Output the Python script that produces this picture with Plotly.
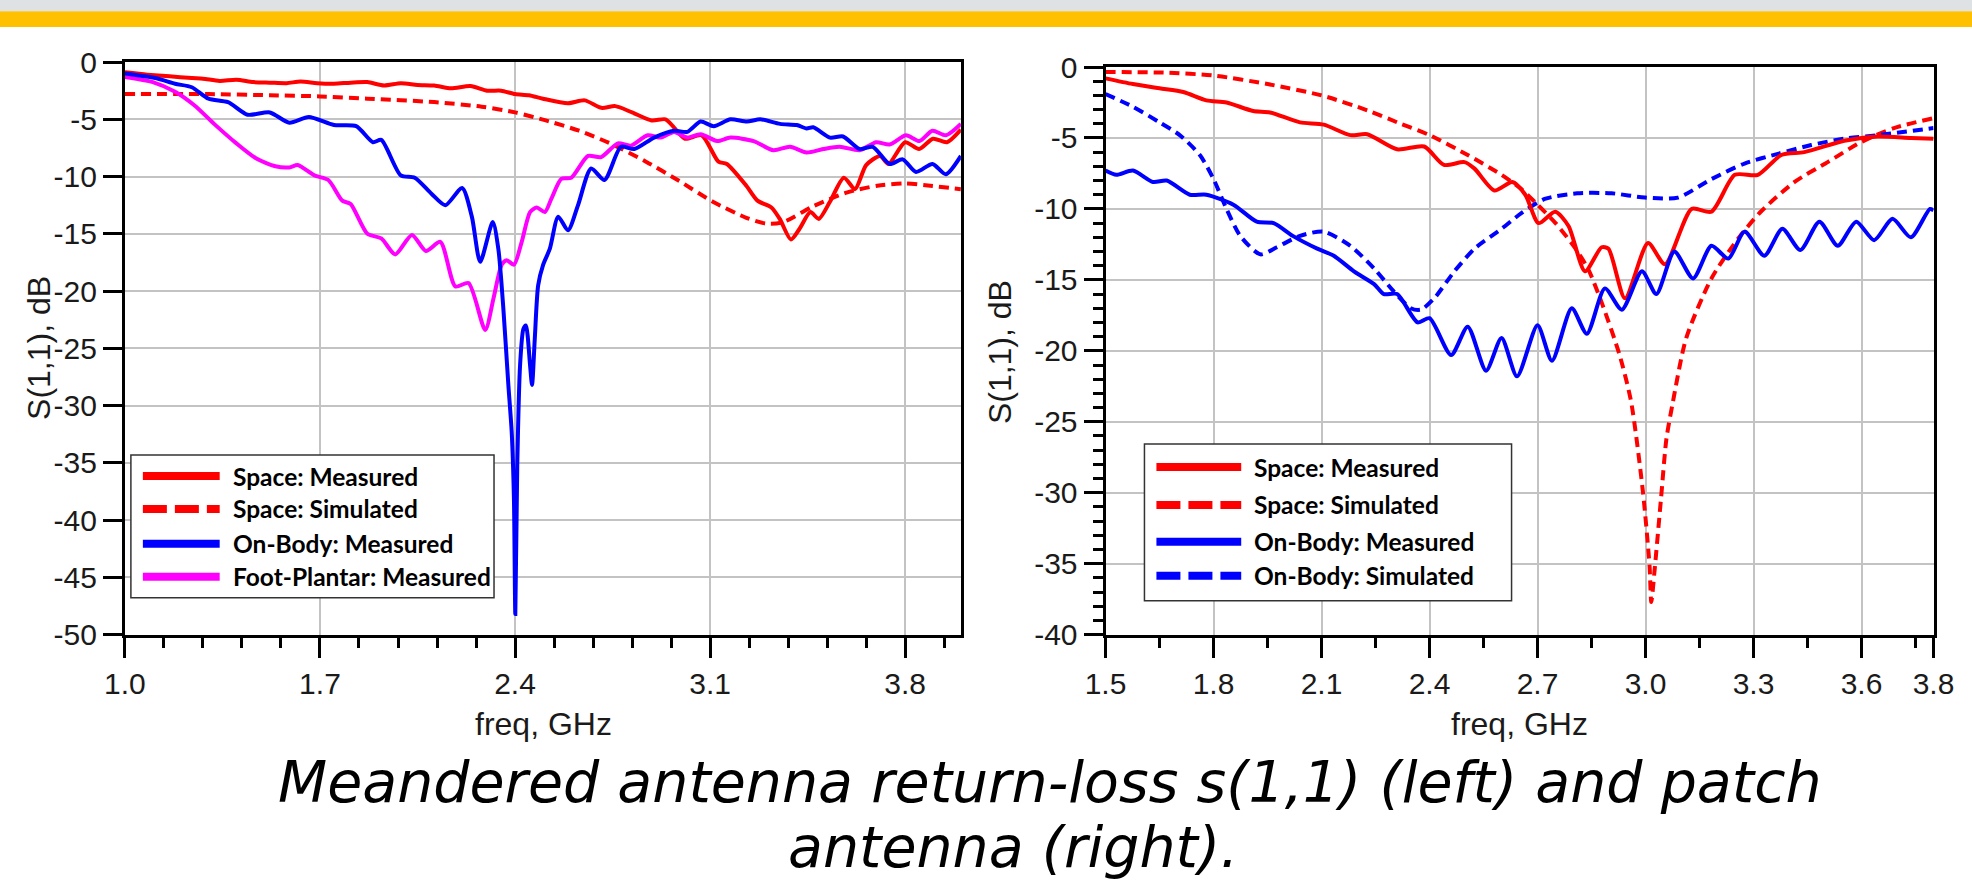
import plotly.graph_objects as go

# Page size; reference pixel -> page pixel mapping (the capture adds a white frame around the page)
W, H = 1972, 896
SX, OFF_X = 1.0193, 19.2
SY, OFF_Y = 928 / 896, 18.5

# ---------------- DATA: left chart (meandered antenna) ----------------
left_space_meas_f = [1.00, 1.08, 1.16, 1.24, 1.28, 1.34, 1.40, 1.46, 1.52, 1.58, 1.63, 1.69, 1.75, 1.81, 1.87, 1.93, 1.99, 2.05, 2.11, 2.17, 2.24, 2.30,
                     2.35, 2.40, 2.45, 2.50, 2.59, 2.65, 2.71, 2.76, 2.82, 2.89, 2.94, 2.97, 3.01, 3.07, 3.13, 3.16, 3.23, 3.27, 3.32, 3.35,
                     3.39, 3.42, 3.46, 3.49, 3.53, 3.58, 3.62, 3.66, 3.71, 3.74, 3.80, 3.85, 3.90, 3.95, 4.00]
left_space_meas_db = [-0.9, -1.1, -1.25, -1.4, -1.45, -1.65, -1.55, -1.75, -1.8, -1.85, -1.7, -1.85, -1.9, -1.8, -1.75, -2.05, -1.85, -2.0, -2.05, -2.3, -2.1, -2.5,
                      -2.5, -2.8, -2.9, -3.2, -3.6, -3.35, -4.0, -3.85, -4.4, -5.1, -5.0, -5.7, -6.7, -6.4, -8.7, -8.9, -10.8, -12.1, -12.7, -13.7,
                      -15.5, -14.6, -13.1, -13.7, -12.2, -10.1, -11.1, -9.0, -8.2, -8.9, -7.0, -7.6, -6.7, -7.0, -5.9]

left_space_sim_f = [1.00, 1.30, 1.52, 1.70, 1.87, 2.11, 2.28, 2.40, 2.51, 2.63, 2.75, 2.87, 2.99, 3.11, 3.23, 3.30, 3.36, 3.47, 3.59, 3.70, 3.80, 3.89, 4.00]
left_space_sim_db = [-2.8, -2.8, -2.9, -3.0, -3.2, -3.5, -3.9, -4.4, -5.1, -6.0, -7.2, -8.7, -10.4, -12.2, -13.6, -14.1, -14.0, -12.6, -11.4, -10.8, -10.6, -10.8, -11.1]

left_body_meas_f = [1.00, 1.11, 1.18, 1.24, 1.30, 1.37, 1.44, 1.52, 1.59, 1.66, 1.75, 1.83, 1.89, 1.92, 1.99, 2.04, 2.10, 2.15, 2.21, 2.245,
                    2.275, 2.32, 2.34, 2.358, 2.376, 2.388, 2.396, 2.401, 2.408, 2.418, 2.430, 2.439, 2.454, 2.461, 2.471, 2.483, 2.501,
                    2.525, 2.555, 2.590, 2.626, 2.673, 2.721, 2.780, 2.828, 2.899, 2.971, 3.018, 3.066, 3.113, 3.173, 3.232, 3.280, 3.351,
                    3.411, 3.446, 3.470, 3.530, 3.577, 3.637, 3.684, 3.744, 3.791, 3.839, 3.898, 3.946, 4.00]
left_body_meas_db = [-1.0, -1.4, -1.9, -2.2, -3.2, -3.5, -4.6, -4.4, -5.3, -4.8, -5.5, -5.6, -7.0, -6.8, -9.9, -10.1, -11.5, -12.5, -11.0, -13.5,
                     -17.45, -13.97, -16.3, -21.5, -28.2, -32.3, -38.1, -48.2, -35.2, -26.5, -23.3, -23.0, -26.5, -28.2, -24.1, -19.5, -17.7,
                     -16.3, -13.5, -14.7, -12.5, -9.3, -10.3, -7.4, -7.6, -6.6, -6.0, -6.1, -5.2, -5.6, -5.0, -5.2, -5.0, -5.4,
                     -5.5, -5.8, -5.7, -6.6, -6.5, -7.6, -7.4, -8.9, -8.5, -9.6, -8.9, -9.8, -8.2]

left_foot_meas_f = [1.00, 1.10, 1.18, 1.25, 1.32, 1.40, 1.47, 1.54, 1.59, 1.62, 1.68, 1.73, 1.78, 1.81, 1.87, 1.92, 1.97, 2.03, 2.08, 2.132,
                    2.186, 2.233, 2.293, 2.323, 2.352, 2.370, 2.396, 2.424, 2.454, 2.478, 2.507, 2.531, 2.566, 2.602, 2.662, 2.709,
                    2.769, 2.816, 2.876, 2.923, 2.971, 3.018, 3.066, 3.125, 3.173, 3.256, 3.327, 3.387, 3.446, 3.506, 3.565, 3.637,
                    3.696, 3.744, 3.803, 3.851, 3.898, 3.946, 4.00]
left_foot_meas_db = [-1.3, -1.75, -2.6, -3.8, -5.4, -7.1, -8.4, -9.1, -9.2, -9.0, -9.9, -10.3, -12.1, -12.4, -15.0, -15.4, -16.8, -15.1, -16.5, -15.7,
                     -19.6, -19.3, -23.4, -20.6, -17.7, -17.3, -17.7, -15.7, -13.1, -12.7, -13.1, -11.9, -10.2, -10.1, -8.2, -8.3,
                     -7.1, -7.3, -6.4, -6.6, -6.1, -6.6, -6.3, -6.9, -6.6, -6.9, -7.7, -7.4, -7.9, -7.6, -7.4, -7.7,
                     -7.0, -7.2, -6.4, -6.9, -6.0, -6.4, -5.4]

# ---------------- DATA: right chart (patch antenna) ----------------
right_space_meas_f = [1.50, 1.576, 1.65, 1.716, 1.78, 1.836, 1.91, 1.957, 2.04, 2.106, 2.18, 2.227, 2.31, 2.385, 2.44, 2.497, 2.525, 2.58,
                      2.63, 2.666, 2.703, 2.749, 2.786, 2.832, 2.878, 2.897, 2.943, 3.007, 3.054, 3.128, 3.183, 3.248, 3.312, 3.377,
                      3.441, 3.552, 3.645, 3.737, 3.80]
right_space_meas_db = [-0.8, -1.2, -1.5, -1.76, -2.35, -2.5, -3.1, -3.2, -3.9, -4.06, -4.8, -4.74, -5.8, -5.6, -6.9, -6.7, -7.16, -8.7,
                       -8.1, -9.0, -11.0, -10.2, -11.2, -14.4, -12.7, -12.8, -16.3, -12.4, -13.9, -10.0, -10.2, -7.6, -7.6, -6.2,
                       -6.0, -5.2, -4.9, -5.0, -5.05]

right_space_sim_f = [1.50, 1.67, 1.80, 1.95, 2.10, 2.227, 2.32, 2.40, 2.506, 2.60, 2.655, 2.70, 2.75, 2.80, 2.84, 2.881, 2.928, 2.960,
                     2.993, 3.011, 3.016, 3.025, 3.043, 3.058, 3.076, 3.113, 3.183, 3.257, 3.32, 3.414, 3.506, 3.598, 3.69, 3.80]
right_space_sim_db = [-0.35, -0.4, -0.6, -1.2, -2.0, -3.05, -4.0, -4.8, -6.2, -7.6, -8.6, -9.7, -11.0, -12.6, -14.2, -16.8, -20.3, -23.6,
                      -30.0, -35.1, -37.7, -35.5, -30.4, -26.2, -23.6, -19.1, -14.9, -12.1, -10.2, -8.1, -6.7, -5.3, -4.3, -3.6]

right_body_meas_f = [1.50, 1.53, 1.576, 1.632, 1.67, 1.734, 1.78, 1.855, 1.92, 1.967, 2.02, 2.088, 2.134, 2.19, 2.246, 2.273, 2.31, 2.367,
                     2.40, 2.46, 2.506, 2.557, 2.60, 2.643, 2.70, 2.74, 2.795, 2.837, 2.887, 2.934, 2.99, 3.03, 3.08, 3.132, 3.183,
                     3.23, 3.275, 3.33, 3.38, 3.43, 3.483, 3.534, 3.585, 3.635, 3.686, 3.737, 3.79, 3.80]
right_body_meas_db = [-7.3, -7.6, -7.3, -8.1, -8.0, -9.0, -9.0, -9.7, -10.9, -11.0, -11.9, -12.8, -13.3, -14.4, -15.3, -16.0, -16.0, -18.0,
                      -17.7, -20.3, -18.3, -21.4, -19.1, -21.8, -18.2, -20.7, -17.0, -18.8, -15.6, -17.1, -14.4, -16.0, -13.0, -14.9, -12.6,
                      -13.5, -11.6, -13.3, -11.4, -12.9, -10.9, -12.6, -10.9, -12.2, -10.7, -12.0, -10.0, -10.1]

right_body_sim_f = [1.50, 1.576, 1.65, 1.706, 1.762, 1.80, 1.836, 1.874, 1.93, 1.976, 2.04, 2.106, 2.18, 2.246, 2.30, 2.348, 2.376, 2.413,
                    2.469, 2.525, 2.60, 2.655, 2.72, 2.81, 2.906, 2.998, 3.09, 3.183, 3.275, 3.37, 3.46, 3.552, 3.645, 3.80]
right_body_sim_db = [-1.9, -2.8, -3.9, -4.8, -6.2, -7.9, -10.0, -11.9, -13.2, -12.7, -11.9, -11.6, -12.6, -14.2, -15.8, -17.0, -17.1, -16.3,
                     -14.4, -12.8, -11.4, -10.3, -9.3, -8.9, -8.9, -9.2, -9.2, -7.9, -6.8, -6.1, -5.5, -5.05, -4.8, -4.3]

# ---------------- tick labels ----------------
left_x_ticks = [1.0, 1.7, 2.4, 3.1, 3.8]
left_x_labels = ["1.0", "1.7", "2.4", "3.1", "3.8"]
left_y_ticks = [0, -5, -10, -15, -20, -25, -30, -35, -40, -45, -50]
left_y_labels = ["0", "-5", "-10", "-15", "-20", "-25", "-30", "-35", "-40", "-45", "-50"]
right_x_ticks = [1.5, 1.8, 2.1, 2.4, 2.7, 3.0, 3.3, 3.6, 3.8]
right_x_labels = ["1.5", "1.8", "2.1", "2.4", "2.7", "3.0", "3.3", "3.6", "3.8"]
right_y_ticks = [0, -5, -10, -15, -20, -25, -30, -35, -40]
right_y_labels = ["0", "-5", "-10", "-15", "-20", "-25", "-30", "-35", "-40"]

left_legend = ["Space: Measured", "Space: Simulated", "On-Body: Measured", "Foot-Plantar: Measured"]
right_legend = ["Space: Measured", "Space: Simulated", "On-Body: Measured", "On-Body: Simulated"]
caption_1 = "Meandered antenna return-loss s(1,1) (left) and patch"
caption_2 = "antenna (right)."
x_title = "freq, GHz"
y_title = "S(1,1), dB"

RED, BLUE, MAG = "#ff0000", "#0000ff", "#ff00ff"


def fx(X):
    """reference x -> page x (px)"""
    return X * SX - OFF_X


def fy(Y):
    """reference y -> page y (px)"""
    return Y * SY - OFF_Y


def px(X):
    return fx(X) / W


def py(Y):
    return 1 - fy(Y) / H


def pyp(y_page):
    return 1 - y_page / H


fig = go.Figure()

LW = 4
DASH = "10px,6px"


def add(f, db, color, dash, xa, ya, name):
    fig.add_trace(go.Scatter(x=f, y=db, mode="lines", name=name, xaxis=xa, yaxis=ya,
                             line=dict(color=color, width=LW, dash=dash, shape="spline", smoothing=0.7),
                             showlegend=False, hoverinfo="x+y"))


add(left_space_sim_f, left_space_sim_db, RED, DASH, "x", "y", left_legend[1])
add(left_space_meas_f, left_space_meas_db, RED, "solid", "x", "y", left_legend[0])
add(left_foot_meas_f, left_foot_meas_db, MAG, "solid", "x", "y", left_legend[3])
add(left_body_meas_f, left_body_meas_db, BLUE, "solid", "x", "y", left_legend[2])

add(right_space_sim_f, right_space_sim_db, RED, DASH, "x2", "y2", right_legend[1])
add(right_body_sim_f, right_body_sim_db, BLUE, DASH, "x2", "y2", right_legend[3])
add(right_space_meas_f, right_space_meas_db, RED, "solid", "x2", "y2", right_legend[0])
add(right_body_meas_f, right_body_meas_db, BLUE, "solid", "x2", "y2", right_legend[2])

ARIAL = "Liberation Sans, Arial, sans-serif"
TICKFONT = dict(family=ARIAL, size=30, color="#1a1a1a")
common = dict(showline=True, mirror=True, linecolor="black", linewidth=3,
              ticks="outside", tickwidth=2.5, tickcolor="black",
              showgrid=True, gridcolor="#c3c3c3", gridwidth=2, zeroline=False,
              tickfont=TICKFONT, tickmode="array", fixedrange=True, ticklabeloverflow="allow")
minor_style = dict(ticks="outside", ticklen=10, tickwidth=2.5, tickcolor="black", showgrid=False)

fig.update_layout(
    width=W, height=H,
    margin=dict(l=0, r=0, t=0, b=0),
    paper_bgcolor="white", plot_bgcolor="white",
    showlegend=False,
    xaxis=dict(domain=[px(123), px(961)], range=[1.0, 4.0], anchor="y", ticklen=20,
               tickvals=left_x_ticks, ticktext=left_x_labels,
               minor=dict(tickmode="linear", tick0=1.0, dtick=0.14, **minor_style), **common),
    yaxis=dict(domain=[py(637), py(63)], range=[-50, 0], anchor="x", ticklen=19,
               tickvals=left_y_ticks, ticktext=left_y_labels, **common),
    xaxis2=dict(domain=[px(1106), px(1936)], range=[1.5, 3.8], anchor="y2", ticklen=20,
                tickvals=right_x_ticks, ticktext=right_x_labels,
                minor=dict(tickmode="linear", tick0=1.5, dtick=0.15, **minor_style), **common),
    yaxis2=dict(domain=[py(637), py(68)], range=[-40, 0], anchor="x2", ticklen=19,
                tickvals=right_y_ticks, ticktext=right_y_labels,
                minor=dict(tickmode="linear", tick0=0, dtick=1, **minor_style), **common),
)

shapes = []
annotations = []

# header bands (gray strip, then yellow strip)
shapes.append(dict(type="rect", xref="paper", yref="paper", x0=-0.05, x1=1.05, y0=py(12), y1=1.1,
                   fillcolor="#dfe2e5", line=dict(width=0), layer="below"))
shapes.append(dict(type="rect", xref="paper", yref="paper", x0=-0.05, x1=1.05, y0=py(28), y1=py(12),
                   fillcolor="#ffc000", line=dict(width=0), layer="below"))

# axis titles (y of text middle from the wanted baseline)
TITLE_FS = 32
TITLEFONT = dict(family=ARIAL, size=TITLE_FS, color="#1a1a1a")
x_title_base = fy(737)
x_title_mid = pyp(x_title_base - 0.3465 * TITLE_FS)
annotations.append(dict(text=x_title, xref="paper", yref="paper", x=px(543), y=x_title_mid,
                        xanchor="center", yanchor="middle", showarrow=False, font=TITLEFONT))
annotations.append(dict(text=x_title, xref="paper", yref="paper", x=px(1521), y=x_title_mid,
                        xanchor="center", yanchor="middle", showarrow=False, font=TITLEFONT))
annotations.append(dict(text=y_title, xref="paper", yref="paper", x=19 / W, y=py(350),
                        xanchor="center", yanchor="middle", textangle=-90, showarrow=False, font=TITLEFONT))
annotations.append(dict(text=y_title, xref="paper", yref="paper", x=px(1001), y=py(354),
                        xanchor="center", yanchor="middle", textangle=-90, showarrow=False, font=TITLEFONT))

# legends (boxes + sample lines + text)
LEGFONT = dict(family="Lato, Open Sans, sans-serif", size=24.5, color="black", weight="bold")


def legend(box, x0, x1, xt, ys, names, colors, dashes):
    bx0, by0, bx1, by1 = box
    shapes.append(dict(type="rect", xref="paper", yref="paper", x0=px(bx0), x1=px(bx1), y0=py(by1), y1=py(by0),
                       fillcolor="white", line=dict(color="#333333", width=1.5)))
    for yy, nm, c, d in zip(ys, names, colors, dashes):
        shapes.append(dict(type="line", xref="paper", yref="paper", x0=px(x0), x1=px(x1), y0=py(yy), y1=py(yy),
                           line=dict(color=c, width=8, dash=d)))
        annotations.append(dict(text=nm, xref="paper", yref="paper", x=px(xt), y=py(yy),
                                xanchor="left", yanchor="middle", showarrow=False, font=LEGFONT))


LDASH = "24px,8px"
legend((129, 457, 493, 600), 141, 218, 229, [478, 511, 546, 579], left_legend,
       [RED, RED, BLUE, MAG], ["solid", LDASH, "solid", "solid"])
legend((1145, 446, 1513, 603), 1157, 1242, 1253, [469, 507, 544, 578], right_legend,
       [RED, RED, BLUE, BLUE], ["solid", LDASH, "solid", LDASH])

# caption: two centred italic lines, kept apart, below the axis titles and inside the page
CAP_FS = 57
CAPFONT = dict(family="DejaVu Sans, Open Sans, sans-serif", size=CAP_FS, color="black", style="italic")
box_h = 1.164 * CAP_FS                       # DejaVu ascent + descent
cap2_top = H - 1.5 - box_h                   # page y of line-2 box top
cap1_top = cap2_top - box_h - 1.0            # page y of line-1 box top
annotations.append(dict(text=caption_1, xref="paper", yref="paper", x=px(1050), y=pyp(cap1_top + box_h / 2),
                        xanchor="center", yanchor="middle", showarrow=False, font=CAPFONT))
annotations.append(dict(text=caption_2, xref="paper", yref="paper", x=px(1013), y=pyp(cap2_top + box_h / 2),
                        xanchor="center", yanchor="middle", showarrow=False, font=CAPFONT))

fig.update_layout(shapes=shapes, annotations=annotations)
fig.write_html("out.html", config={"displayModeBar": False},
               post_script="document.body.style.margin='0px';document.body.style.padding='0px';"
                           "document.documentElement.style.overflow='hidden';")
